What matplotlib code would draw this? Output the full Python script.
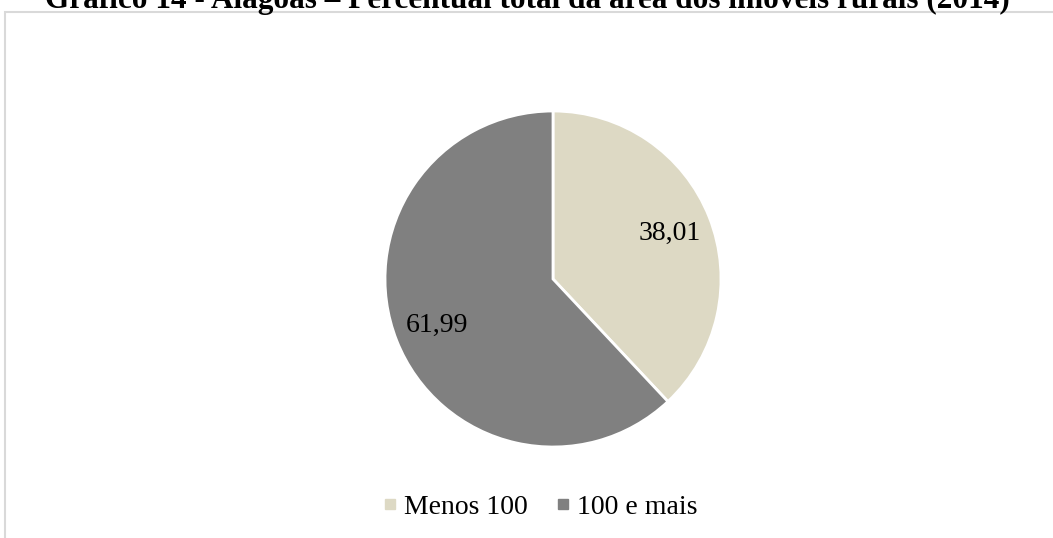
import matplotlib.pyplot as plt
from matplotlib.lines import Line2D
from matplotlib.patches import Rectangle

plt.rcParams['font.family'] = ['Liberation Serif', 'DejaVu Serif']

# dados
categorias = ['Menos 100', '100 e mais']
percentuais = [38.01, 61.99]
cores = ['#DDD9C4', '#808080']
titulo = 'Gráfico 14 - Alagoas – Percentual total da área dos imóveis rurais (2014)'

W, H = 1053, 538
fig = plt.figure(figsize=(W / 100, H / 100), dpi=100)

# moldura do gráfico (cortada à direita e embaixo)
fig.patches.append(Rectangle((5 / W, -0.05), 1.1, 1 - 12 / H + 0.05,
                             transform=fig.transFigure, fill=False,
                             edgecolor='#D9D9D9', linewidth=1.5))

fig.text(527 / W, 1 - 8 / H, titulo, ha='center', va='baseline',
         fontsize=22.5, fontweight='bold')

cx, cy, r = 553, 279, 168
ax = fig.add_axes([(cx - r) / W, (H - cy - r) / H, 2 * r / W, 2 * r / H])
wedges, texts, autotexts = ax.pie(
    percentuais, colors=cores, startangle=90, counterclock=False,
    autopct=lambda p: f'{p:.2f}'.replace('.', ','), pctdistance=0.745,
    wedgeprops=dict(edgecolor='white', linewidth=2),
    textprops=dict(fontsize=20, color='black'))
ax.set_xlim(-1, 1)
ax.set_ylim(-1, 1)
ax.set_aspect('equal')

handles = [Line2D([], [], marker='s', linestyle='', markersize=7,
                  markerfacecolor=c, markeredgecolor=c) for c in cores]
fig.legend(handles, categorias, loc='center', bbox_to_anchor=(541 / W, 1 - 507 / H),
           ncol=2, frameon=False, fontsize=20, handlelength=0.4,
           handletextpad=0.3, columnspacing=1.1, borderpad=0)

fig.savefig('out.png', dpi=100)
